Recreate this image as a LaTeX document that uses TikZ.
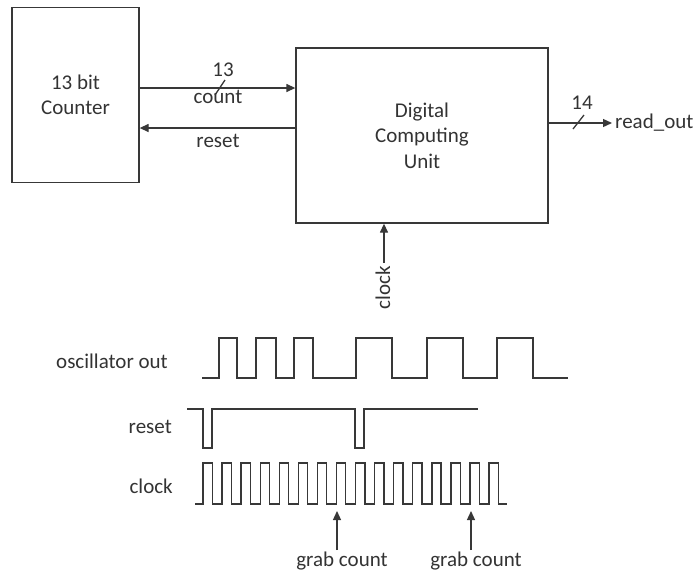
\documentclass[tikz,border=0pt]{standalone}
\usepackage{fontspec}
\setmainfont{Carlito}
\usetikzlibrary{arrows.meta}
\definecolor{ln}{rgb}{0.22,0.22,0.22}
\definecolor{tx}{rgb}{0.2,0.2,0.2}
\begin{document}
\begin{tikzpicture}[x=1pt,y=-1pt,
  every node/.style={text=tx,font=\fontsize{21}{25.5}\selectfont},
  blk/.style={draw=ln,line width=1.3pt,align=center,inner sep=0pt},
  arr/.style={draw=ln,line width=1.3pt,-{Triangle[length=9pt,width=8pt]}},
  wire/.style={draw=ln,line width=1.3pt},
  wave/.style={draw=ln,line width=1.4pt,line join=miter},
  lbl/.style={inner sep=0pt}]
\useasboundingbox (0,0) rectangle (697,574);
% blocks
\node[blk,minimum width=127pt,minimum height=175.5pt] (counter) at (75.5,95) {13 bit\\Counter};
\node[blk,minimum width=252pt,minimum height=175pt] (dcu) at (422,135.5) {Digital\\Computing\\Unit};
% helper coordinates
\coordinate (y88) at (0,88);
\coordinate (y128) at (0,128);
\coordinate (y123) at (0,123);
\coordinate (x384) at (384,0);
\coordinate (ro) at (612,123);
\coordinate (ck) at (384,263);
% count / reset
\draw[arr] (counter.east |- y88) -- (dcu.west |- y88);
\draw[wire] (215,95) -- (225,80);
\node[lbl] (n13) at (223,70) {13};
\node[lbl] (lcount) at (218,97) {count};
\draw[arr] (dcu.west |- y128) -- (counter.east |- y128);
\node[lbl] (lreset) at (218,141) {reset};
% read_out
\draw[arr] (dcu.east |- y123) -- (ro);
\draw[wire] (573,129) -- (584,115);
\node[lbl] (n14) at (582,103) {14};
\node[lbl,anchor=west] (lro) at (615,123) {read\_out};
% clock input
\draw[arr] (ck) -- (dcu.south -| ck);
\node[lbl,rotate=90] (lclk) at (383,288) {clock};
% waveform labels
\node[lbl,anchor=east] (losc) at (168,361) {oscillator out};
\node[lbl,anchor=east] (lrst) at (172,427) {reset};
\node[lbl,anchor=east] (lclk2) at (173,486) {clock};
% oscillator out
\draw[wave] (202,378) -- (219,378) -- (219,338) -- (237,338) -- (237,378) -- (256,378) -- (256,338) -- (276,338) -- (276,378) -- (294,378) -- (294,338) -- (313,338) -- (313,378) -- (356,378) -- (356,338) -- (392,338) -- (392,378) -- (427,378) -- (427,338) -- (463,338) -- (463,378) -- (497,378) -- (497,338) -- (533,338) -- (533,378) -- (568,378);
% reset
\draw[wave] (187,409) -- (203,409) -- (203,448) -- (212,448) -- (212,409) -- (355,409) -- (355,448) -- (364,448) -- (364,409) -- (478,409);
% clock
\draw[wave] (195,504) \foreach \i in {0,...,15}{ -- ({203+19.07*\i},504) -- ({203+19.07*\i},463) -- ({212.3+19.07*\i},463) -- ({212.3+19.07*\i},504)} -- (507,504);
% grab count
\coordinate (g1t) at (337,550);
\coordinate (g1h) at (337,511);
\coordinate (g2t) at (471,550);
\coordinate (g2h) at (471,511);
\draw[arr] (g1t) -- (g1h);
\draw[arr] (g2t) -- (g2h);
\node[lbl] (gc1) at (342,561) {grab count};
\node[lbl] (gc2) at (476,561) {grab count};
\end{tikzpicture}
\end{document}
